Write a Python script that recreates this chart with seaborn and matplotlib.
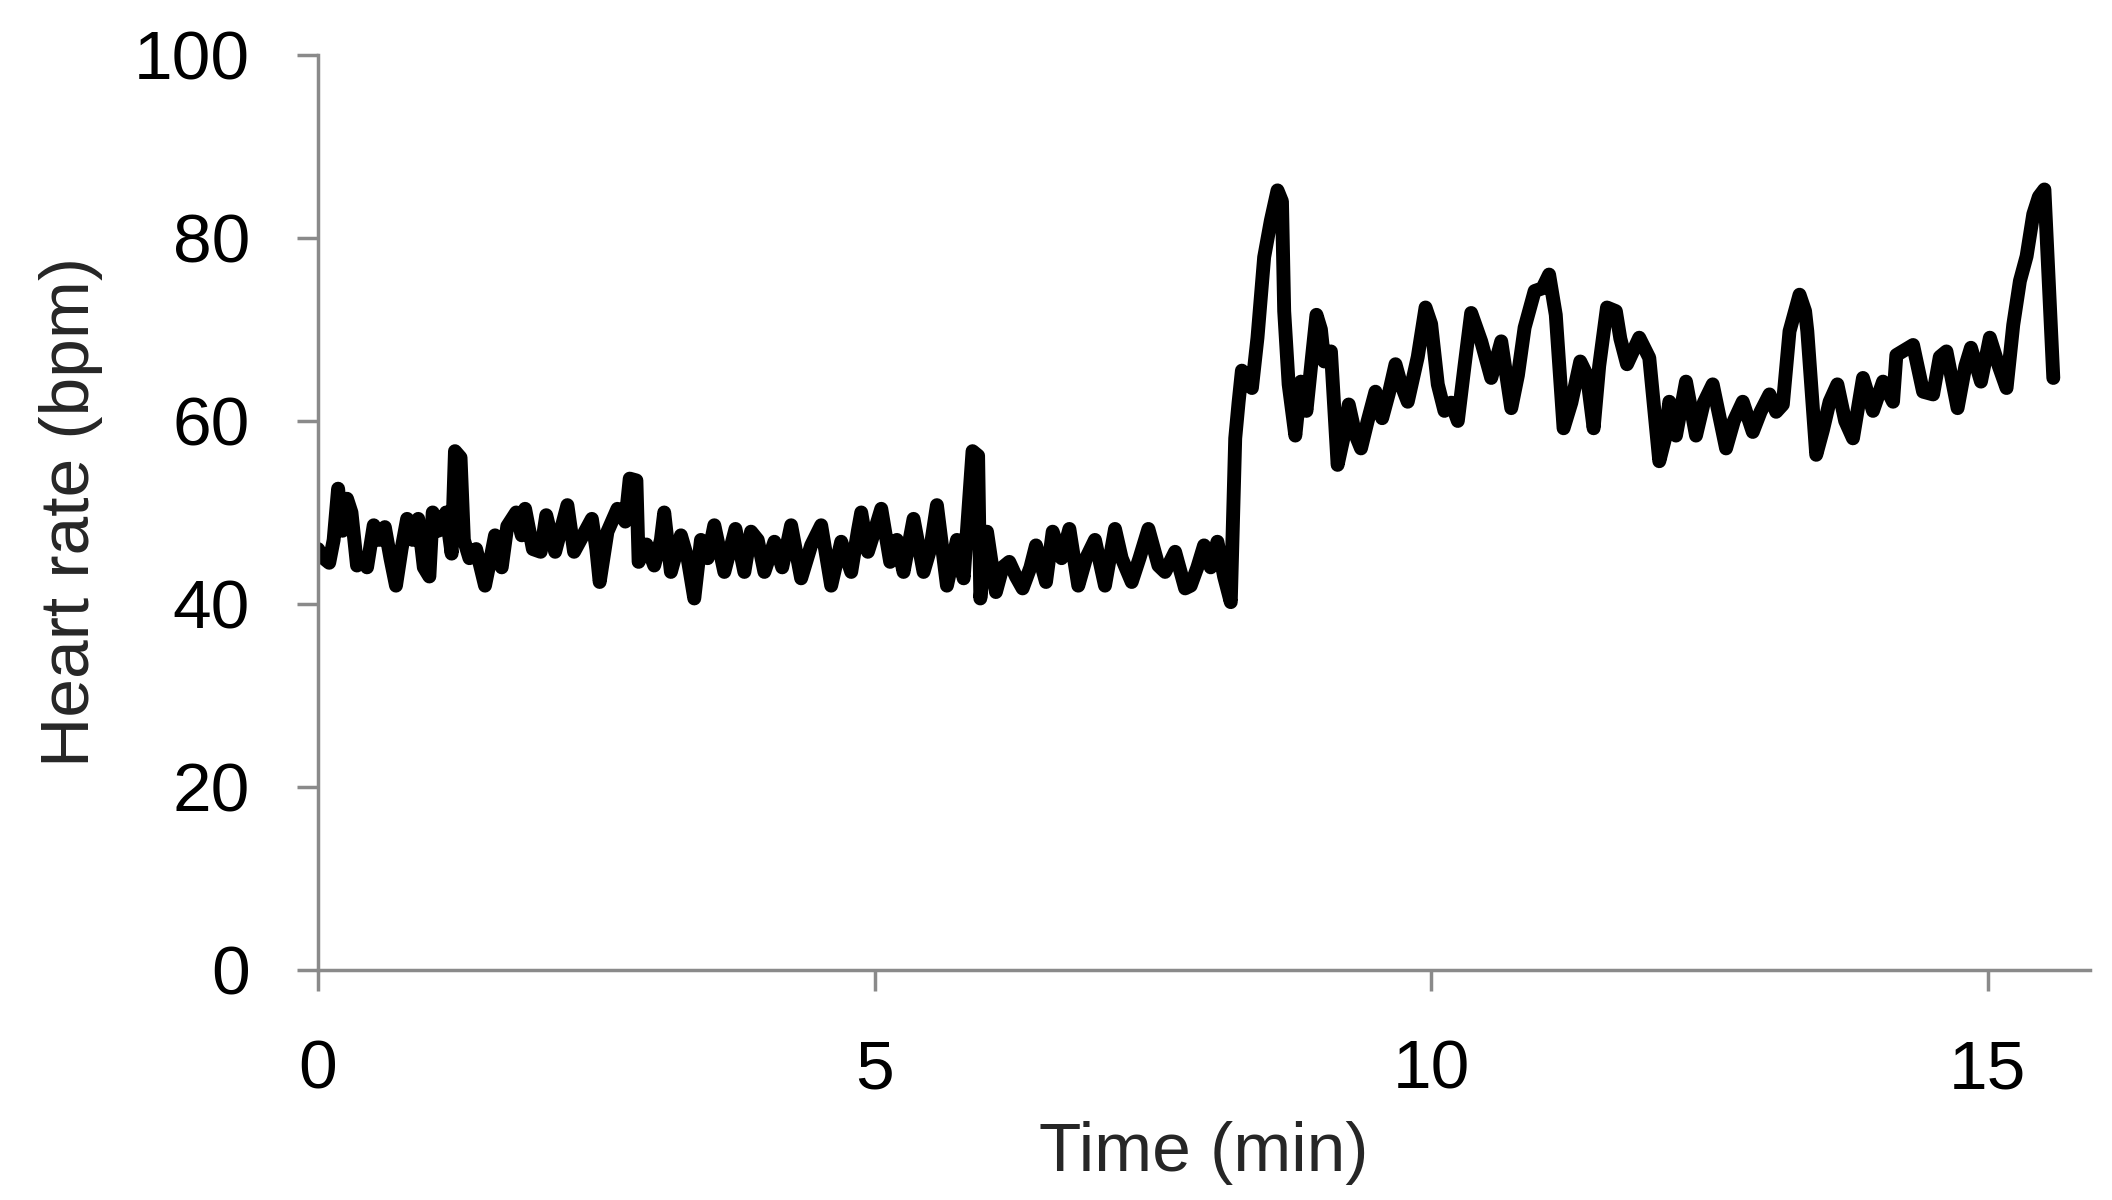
import pandas as pd
import matplotlib
matplotlib.use("Agg")
import matplotlib.pyplot as plt
import seaborn as sns

# heart rate trace (turning points)
time_min = [
    0.00, 0.05, 0.10, 0.14, 0.18, 0.22, 0.26, 0.30, 0.35, 0.40, 0.44, 0.50, 0.55, 0.60, 0.65,
    0.70, 0.75, 0.80, 0.85, 0.90, 0.95, 1.00, 1.03, 1.08, 1.15, 1.20, 1.23, 1.28, 1.31, 1.36,
    1.42, 1.50, 1.55, 1.59, 1.65, 1.70, 1.78, 1.83, 1.86, 1.93, 2.00, 2.05, 2.13, 2.18, 2.24,
    2.30, 2.38, 2.46, 2.50, 2.53, 2.60, 2.69, 2.76, 2.80, 2.86, 2.88, 2.95, 3.02, 3.08, 3.11,
    3.17, 3.26, 3.32, 3.38, 3.44, 3.50, 3.56, 3.65, 3.75, 3.83, 3.89, 3.95, 4.01, 4.10, 4.17,
    4.25, 4.34, 4.43, 4.52, 4.61, 4.70, 4.79, 4.85, 4.88, 4.94, 5.00, 5.06, 5.14, 5.20, 5.26,
    5.35, 5.44, 5.50, 5.56, 5.65, 5.74, 5.80, 5.88, 5.93, 5.95, 6.01, 6.09, 6.15, 6.21, 6.27,
    6.33, 6.40, 6.45, 6.54, 6.60, 6.68, 6.75, 6.83, 6.90, 6.98, 7.07, 7.16, 7.22, 7.31, 7.38,
    7.46, 7.55, 7.61, 7.70, 7.79, 7.84, 7.90, 7.96, 8.02, 8.08, 8.14, 8.20, 8.24, 8.27, 8.30,
    8.36, 8.39, 8.44, 8.50, 8.56, 8.62, 8.66, 8.68, 8.72, 8.78, 8.83, 8.88, 8.93, 8.97, 9.01,
    9.04, 9.10, 9.16, 9.21, 9.26, 9.32, 9.37, 9.43, 9.50, 9.56, 9.62, 9.68, 9.73, 9.79, 9.88,
    9.95, 10.00, 10.06, 10.12, 10.18, 10.24, 10.30, 10.36, 10.45, 10.54, 10.63, 10.72, 10.78, 10.84, 10.93,
    11.00, 11.06, 11.12, 11.19, 11.26, 11.34, 11.40, 11.46, 11.51, 11.58, 11.66, 11.70, 11.76, 11.87, 11.96,
    12.05, 12.10, 12.14, 12.20, 12.29, 12.38, 12.45, 12.53, 12.65, 12.72, 12.80, 12.89, 12.96, 13.04, 13.10,
    13.16, 13.22, 13.31, 13.36, 13.38, 13.42, 13.46, 13.52, 13.58, 13.65, 13.72, 13.79, 13.88, 13.97, 14.06,
    14.15, 14.18, 14.33, 14.42, 14.51, 14.57, 14.63, 14.73, 14.80, 14.85, 14.94, 15.02, 15.10, 15.17, 15.23,
    15.29, 15.35, 15.41, 15.46, 15.51, 15.59,
]
heart_rate = [
    46.0, 45.0, 44.5, 47.0, 52.6, 48.0, 51.5, 50.0, 44.2, 45.0, 44.0, 48.6, 47.0, 48.4, 45.0,
    42.0, 46.0, 49.3, 47.0, 49.3, 44.0, 43.0, 50.0, 48.0, 50.0, 45.5, 56.7, 56.0, 47.0, 45.0,
    46.0, 42.0, 45.0, 47.5, 44.0, 48.5, 50.0, 47.5, 50.4, 46.0, 45.7, 49.7, 45.7, 48.0, 50.8,
    45.7, 47.5, 49.3, 46.0, 42.4, 47.9, 50.4, 49.0, 53.7, 53.5, 44.6, 46.5, 44.2, 47.0, 50.0,
    43.5, 47.5, 45.0, 40.6, 47.0, 45.0, 48.6, 43.5, 48.2, 43.5, 47.9, 47.0, 43.5, 46.8, 44.0,
    48.6, 42.8, 46.4, 48.6, 42.0, 46.8, 43.5, 48.0, 50.0, 45.7, 48.0, 50.4, 44.6, 47.0, 43.5,
    49.3, 43.5, 46.0, 50.8, 42.0, 47.0, 42.8, 56.7, 56.2, 40.6, 47.9, 41.3, 44.0, 44.6, 43.0,
    41.7, 44.0, 46.4, 42.4, 47.9, 45.0, 48.2, 42.0, 45.0, 47.0, 42.0, 48.2, 45.0, 42.4, 45.0,
    48.2, 44.2, 43.5, 45.7, 41.7, 42.0, 44.0, 46.4, 44.0, 46.8, 43.0, 40.2, 58.1, 62.0, 65.5,
    64.5, 63.6, 69.1, 77.9, 81.9, 85.2, 84.0, 72.0, 64.0, 58.4, 64.3, 61.1, 67.0, 71.6, 70.0,
    66.5, 67.6, 55.2, 58.0, 61.8, 58.5, 57.0, 60.0, 63.2, 60.3, 63.0, 66.2, 64.0, 62.1, 67.0,
    72.4, 70.6, 64.0, 61.1, 62.0, 60.0, 66.0, 71.8, 68.7, 64.7, 68.7, 61.4, 65.0, 70.2, 74.2,
    74.5, 76.0, 71.6, 59.2, 62.0, 66.5, 65.0, 59.2, 66.0, 72.4, 72.0, 69.0, 66.2, 69.1, 66.9,
    55.6, 58.0, 62.1, 58.4, 64.3, 58.4, 62.0, 64.0, 57.0, 60.0, 62.1, 58.8, 61.0, 62.9, 61.0,
    61.8, 69.8, 73.8, 72.0, 69.8, 63.0, 56.3, 59.0, 62.1, 64.0, 60.0, 58.1, 64.7, 61.1, 64.3,
    62.1, 67.2, 68.3, 63.2, 62.9, 67.0, 67.6, 61.4, 66.0, 68.0, 64.3, 69.1, 66.0, 63.6, 70.5,
    75.3, 78.0, 82.6, 84.5, 85.3, 64.7,
]

x_ticks = [0, 5, 10, 15]
y_ticks = [0, 20, 40, 60, 80, 100]
x_label = "Time (min)"
y_label = "Heart rate (bpm)"

df = pd.DataFrame({"time": time_min, "hr": heart_rate})

sns.set_style("white")
plt.rcParams['font.family'] = ['Liberation Sans', 'DejaVu Sans']

axis_grey = '#8a8a8a'

fig = plt.figure(figsize=(21.12, 12), dpi=100)
ax = fig.add_axes([0.1506, 0.1917, 0.8390, 0.7625])

sns.lineplot(data=df, x="time", y="hr", ax=ax, color='black', linewidth=10,
             estimator=None, sort=False, solid_joinstyle='round', solid_capstyle='round')

ax.set_xlim(0, 15.92)
ax.set_ylim(0, 100)
ax.set_xticks(x_ticks)
ax.set_yticks(y_ticks)

sns.despine(ax=ax)
for side in ['left', 'bottom']:
    ax.spines[side].set_color(axis_grey)
    ax.spines[side].set_linewidth(2.5)

ax.tick_params(axis='both', direction='out', length=15, width=2.5, color=axis_grey,
               labelsize=50, labelcolor='black', pad=34)
ax.tick_params(left=True, bottom=True)

ax.set_xlabel(x_label, fontsize=50, labelpad=14)
ax.set_ylabel(y_label, fontsize=50, labelpad=22)

plt.savefig('out.png', dpi=100)
plt.close()
